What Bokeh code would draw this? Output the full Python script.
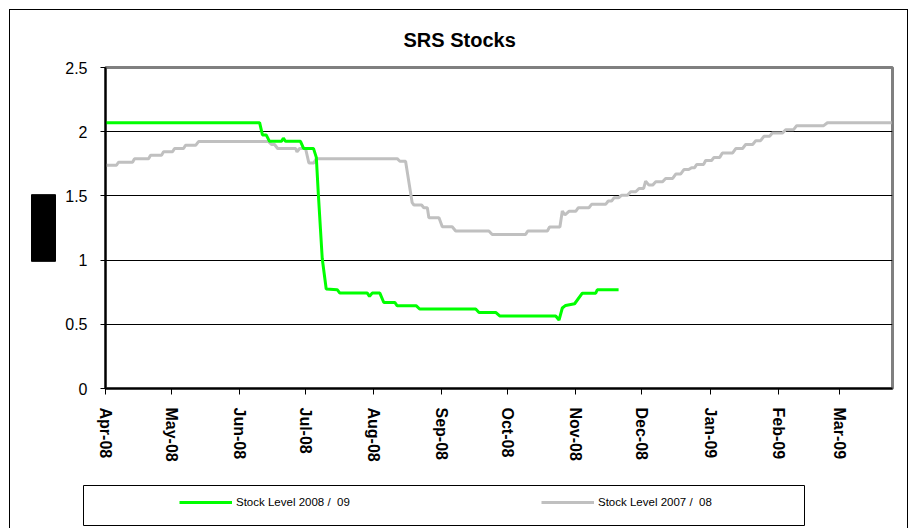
from bokeh.plotting import figure
from bokeh.layouts import column
from bokeh.models import Range1d, FixedTicker, Legend, LegendItem, Title
from bokeh.embed import file_html
from bokeh.resources import INLINE

# ---------------- data ----------------
title_text = "SRS Stocks"
y_label = "Tonnes"

# x = days from the start of the season (1 April)
tick_days = [0, 30, 61, 91, 122, 153, 183, 214, 244, 275, 306, 334]
tick_labels = ["Apr-08", "May-08", "Jun-08", "Jul-08", "Aug-08", "Sep-08",
               "Oct-08", "Nov-08", "Dec-08", "Jan-09", "Feb-09", "Mar-09"]
y_ticks = [0, 0.5, 1, 1.5, 2, 2.5]

label_2008 = "Stock Level 2008 /  09"
label_2007 = "Stock Level 2007 /  08"

stock_2008_day = [0, 70.1, 71.4, 73.1, 74.6, 80.1, 80.9, 81.9, 88.7, 90.1,
                  94.6, 95.9, 96.8, 98.6, 100.4, 105.4, 106.6, 119.1, 120.1, 121.3,
                  124.8, 126.6, 131.6, 132.7, 141.4, 142.9, 168.4, 169.9, 177.5, 179.3,
                  204.8, 206.3, 207.8, 209.3, 213.4, 216.9, 223.0, 223.7, 233.4]
stock_2008_val = [2.07, 2.07, 1.975, 1.975, 1.925, 1.925, 1.95, 1.925, 1.925, 1.87,
                  1.87, 1.80, 1.52, 1.01, 0.775, 0.77, 0.743, 0.743, 0.717, 0.743,
                  0.743, 0.67, 0.67, 0.644, 0.644, 0.619, 0.619, 0.592, 0.592, 0.565,
                  0.565, 0.533, 0.627, 0.647, 0.66, 0.742, 0.742, 0.769, 0.769]

stock_2007_day = [0, 5.0, 5.9, 12.3, 13.2, 19.6, 20.5, 25.5, 26.4, 30.5,
                  31.4, 35.5, 36.4, 41.0, 42.3, 74.2, 75.5, 76.9, 78.3, 86.5,
                  87.1, 88.3, 91.0, 92.5, 94.8, 96.0, 132.7, 133.9, 136.5, 139.5,
                  140.3, 143.8, 144.8, 146.4, 147.1, 151.7, 153.2, 157.7, 159.3, 174.4,
                  175.9, 191.1, 192.1, 201.0, 202.0, 206.7, 207.8, 209.0, 210.8, 213.9,
                  215.1, 219.9, 221.1, 227.5, 228.7, 230.2, 231.3, 233.4, 234.8, 237.5,
                  238.9, 241.2, 242.7, 244.8, 245.7, 247.2, 248.9, 250.3, 253.4, 254.8,
                  258.0, 259.4, 261.6, 263.1, 265.3, 266.6, 268.0, 268.9, 272.1, 273.0,
                  275.7, 276.8, 279.4, 280.6, 285.3, 286.7, 289.8, 291.2, 294.4, 295.8,
                  298.0, 299.5, 302.1, 303.3, 308.0, 309.4, 313.0, 314.4, 326.7, 328.4,
                  357.6]
stock_2007_val = [1.739, 1.739, 1.762, 1.762, 1.79, 1.79, 1.817, 1.817, 1.843, 1.843,
                  1.869, 1.869, 1.894, 1.894, 1.923, 1.923, 1.90, 1.90, 1.869, 1.869,
                  1.843, 1.869, 1.869, 1.757, 1.757, 1.79, 1.79, 1.77, 1.77, 1.447,
                  1.429, 1.429, 1.408, 1.408, 1.33, 1.33, 1.26, 1.26, 1.227, 1.227,
                  1.20, 1.20, 1.227, 1.227, 1.258, 1.258, 1.382, 1.351, 1.38, 1.38,
                  1.408, 1.408, 1.434, 1.434, 1.46, 1.46, 1.485, 1.485, 1.506, 1.506,
                  1.532, 1.532, 1.558, 1.558, 1.615, 1.584, 1.584, 1.61, 1.61, 1.636,
                  1.636, 1.67, 1.67, 1.705, 1.705, 1.72, 1.72, 1.745, 1.745, 1.776,
                  1.776, 1.80, 1.80, 1.835, 1.835, 1.869, 1.869, 1.90, 1.90, 1.93,
                  1.93, 1.964, 1.964, 1.99, 1.99, 2.016, 2.016, 2.047, 2.047, 2.07,
                  2.07]

GREEN = "#00FF00"
GREY = "#C0C0C0"
FONT = "Liberation Sans"

# ---------------- main chart ----------------
p = figure(width=899, height=470, output_backend="svg", toolbar_location=None,
           x_range=Range1d(0, 358), y_range=Range1d(0, 2.5),
           min_border_left=95, min_border_right=17, min_border_top=56,
           min_border_bottom=92)
p.styles = {"border-top": "1px solid black", "border-left": "1px solid black",
            "border-right": "1px solid black"}
p.background_fill_color = "white"
p.border_fill_color = "white"
p.outline_line_color = "#808080"
p.outline_line_width = 3

p.title.text = title_text
p.title.text_font = FONT
p.title.text_font_size = "20px"
p.title.text_font_style = "bold"
p.title.text_color = "black"
p.title.align = "left"
p.title.offset = 298
p.title.standoff = 33

p.xgrid.visible = False
p.ygrid.grid_line_color = "black"
p.ygrid.grid_line_width = 1

# y axis
ya = p.yaxis[0]
ya.ticker = FixedTicker(ticks=y_ticks)
ya.axis_line_color = "black"
ya.axis_line_width = 2
ya.major_tick_line_color = "black"
ya.major_tick_out = 5
ya.major_tick_in = 0
ya.minor_tick_line_color = None
ya.major_label_text_font = FONT
ya.major_label_text_font_size = "16px"
ya.major_label_text_color = "black"
ya.major_label_standoff = 13

# y axis title drawn as a black block (as in the reference)
ytitle = Title(text=y_label, align="center", text_font=FONT, text_font_size="18px",
               text_font_style="bold", text_color="black",
               background_fill_color="black", border_line_color="black",
               standoff=14)
if "padding" in ytitle.properties():
    ytitle.padding = 2
p.add_layout(ytitle, "left")

# x axis
xa = p.xaxis[0]
xa.ticker = FixedTicker(ticks=tick_days)
xa.major_label_overrides = {d: s for d, s in zip(tick_days, tick_labels)}
xa.major_label_orientation = "vertical"
xa.axis_line_color = "black"
xa.axis_line_width = 2
xa.major_tick_line_color = "black"
xa.major_tick_out = 6
xa.major_tick_in = 0
xa.minor_tick_line_color = None
xa.major_label_text_font = FONT
xa.major_label_text_font_size = "16px"
xa.major_label_text_font_style = "bold"
xa.major_label_text_color = "black"
xa.major_label_standoff = 13

# lines
r07 = p.line(stock_2007_day, stock_2007_val, line_color=GREY, line_width=3)
r08 = p.line(stock_2008_day, stock_2008_val, line_color=GREEN, line_width=3)

# ---------------- legend strip (its frame is the legend box) ----------------
q = figure(width=899, height=49, output_backend="svg", toolbar_location=None,
           x_axis_location=None, y_axis_location=None,
           x_range=Range1d(1000, 1001), y_range=Range1d(1000, 1001),
           min_border_left=73, min_border_right=105, min_border_top=6,
           min_border_bottom=3)
q.styles = {"border-left": "1px solid black", "border-right": "1px solid black"}
q.xgrid.visible = False
q.ygrid.visible = False
q.background_fill_color = "white"
q.border_fill_color = "white"
q.outline_line_color = "black"
q.outline_line_width = 1

for fig in (p, q):
    if "frame_align" in fig.properties():
        fig.frame_align = False

# legend keys: the same series, hidden (outside this strip's range)
k08 = q.line(stock_2008_day, stock_2008_val, line_color=GREEN, line_width=3, visible=False)
k07 = q.line(stock_2007_day, stock_2007_val, line_color=GREY, line_width=3, visible=False)

legend = Legend(items=[LegendItem(label=label_2008, renderers=[k08]),
                       LegendItem(label=label_2007, renderers=[k07])],
                orientation="horizontal", location=(96, 13), margin=0,
                padding=0, spacing=175, label_width=130, label_height=20,
                glyph_width=53, glyph_height=20, label_standoff=4,
                label_text_font=FONT, label_text_font_size="11.5px",
                label_text_color="black", inactive_fill_alpha=0,
                border_line_color=None, background_fill_alpha=0)
q.add_layout(legend, "center")

layout = column(p, q, spacing=0)
layout.styles = {"margin-left": "9px", "margin-top": "9px"}

open("out.html", "w").write(file_html(layout, INLINE))
